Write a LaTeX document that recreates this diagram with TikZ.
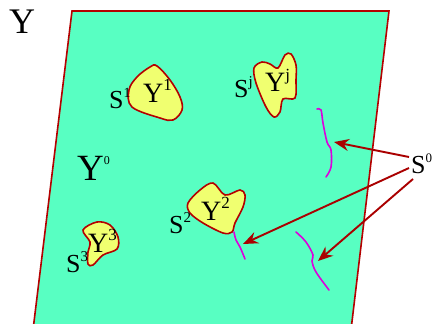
\documentclass[tikz,border=0pt]{standalone}
\usepackage{fontspec}
\setmainfont{Liberation Serif}
\usetikzlibrary{arrows.meta}
\definecolor{mint}{RGB}{88,255,194}
\definecolor{blobfill}{RGB}{240,255,112}
\definecolor{edgered}{RGB}{180,0,0}
\definecolor{arrred}{RGB}{170,0,0}
\definecolor{mag}{RGB}{220,0,220}
\newcommand\lbl[4]{\fontsize{#3}{#3}\selectfont #1\raisebox{0.42em}{\fontsize{#4}{#4}\selectfont #2}}
\begin{document}
\begin{tikzpicture}[x=1pt,y=-1pt,
  txt/.style={inner sep=0pt,anchor=base west},
  region/.style={fill=mint,draw=edgered,line width=1.6pt,line join=miter},
  blob/.style={fill=blobfill,draw=edgered,line width=1.6pt},
  seam/.style={draw=mag,line width=1.6pt,line cap=round},
  arr/.style={draw=arrred,line width=1.9pt,-{Stealth[length=15pt,width=12pt,inset=5pt]}}]
\useasboundingbox (0,0) rectangle (432,324);
\clip (0,0) rectangle (432,324);
\fill[white] (0,0) rectangle (432,324);
% big region
\path[region] (72,11) -- (389,11) -- (351,330) -- (33,330) -- cycle;
% blobs
\path[blob] plot[smooth cycle,tension=0.6] coordinates {(129,90) (137,77) (150,67) (157,66) (170,80) (180,97) (182,110) (173,120) (160,118) (132,107)};
\path[blob] plot[smooth cycle,tension=0.55] coordinates {(254,68) (262,62) (270,64) (278,68) (285,55) (291,54) (296,65) (296,80) (295,98) (283,99) (280,112) (274,117) (266,107) (256,83)};
\path[blob] plot[smooth cycle,tension=0.55] coordinates {(188,203) (200,190) (213,183) (225,195) (240,190) (245,195) (243,207) (235,223) (232,232) (223,233) (203,223) (190,213)};
\path[blob] plot[smooth cycle,tension=0.55] coordinates {(83,230) (97,222) (110,225) (118,237) (117,249) (103,255) (93,265) (88,264) (88,252) (90,242)};
% seams
\draw[seam] plot[smooth,tension=0.6] coordinates {(317,109) (321,110) (323,123) (327,142) (331,150) (331,167) (326,177)};
\draw[seam] plot[smooth,tension=0.6] coordinates {(234,232) (236,240) (240,247) (245,259)};
\draw[seam] plot[smooth,tension=0.6] coordinates {(296,232) (306,242) (313,255) (312,261) (316,272) (329,290)};
% labels
\node[txt] (Y) at (9,34) {\lbl{Y}{}{36}{12}};
\node[txt] (Y0) at (77,180) {\lbl{Y}{0}{37}{12}};
\node[txt] (S1) at (109,108) {\lbl{S}{1}{26}{14}};
\node[txt] (Y1) at (143,102) {\lbl{Y}{1}{28}{17}};
\node[txt] (Sj) at (234,97) {\lbl{S}{j}{26}{15}};
\node[txt] (Yj) at (265,92) {\lbl{Y}{j}{28}{17}};
\node[txt] (S2) at (169,233) {\lbl{S}{2}{26}{15}};
\node[txt] (Y2) at (201,220) {\lbl{Y}{2}{28}{17}};
\node[txt] (S3) at (66,272) {\lbl{S}{3}{26}{15}};
\node[txt] (Y3) at (88,252) {\lbl{Y}{3}{28}{17}};
\node[txt] (S0) at (411,173) {\lbl{S}{0}{26}{13}};
% arrows
\coordinate (a1) at (409,157);
\coordinate (a2) at (409,168);
\coordinate (a3) at (413,179);
\coordinate (t1) at (334,142);
\coordinate (t2) at (243,244);
\coordinate (t3) at (318,261);
\draw[arr] (a1) -- (t1);
\draw[arr] (a2) -- (t2);
\draw[arr] (a3) -- (t3);
\end{tikzpicture}
\end{document}
